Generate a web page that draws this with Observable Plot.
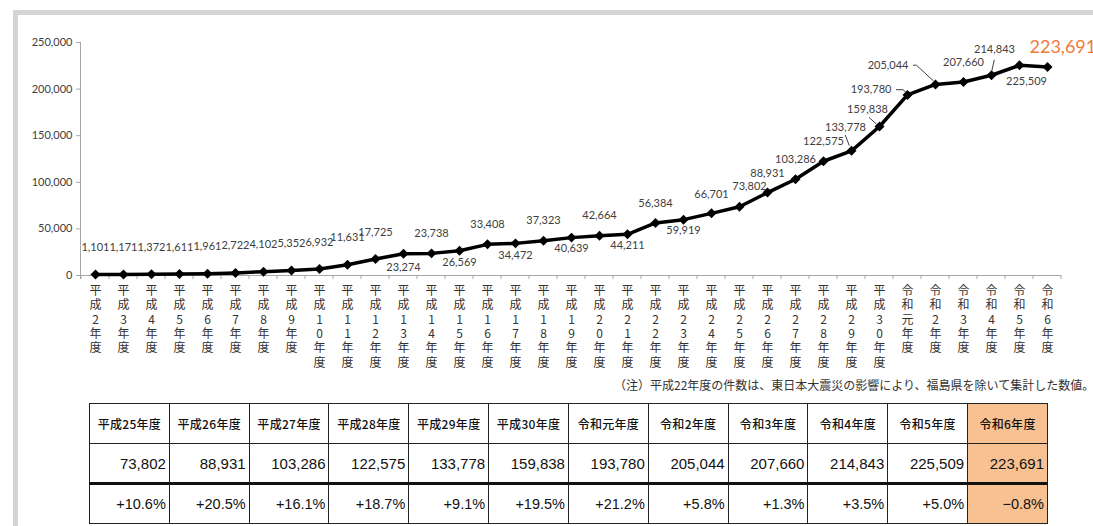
<!DOCTYPE html>
<html><head><meta charset="utf-8">
<script src="https://cdn.jsdelivr.net/npm/d3@7"></script>
<script src="https://cdn.jsdelivr.net/npm/@observablehq/plot@0.6"></script>
<style>
body{margin:0;background:#fff;width:1093px;height:526px;overflow:hidden;position:relative;font-family:Lato,sans-serif}
#frame{position:absolute;left:13px;top:10px;width:1200px;height:700px;border-left:5px solid #d5d5d5;border-top:5px solid #d5d5d5;box-sizing:border-box}
#chart{position:absolute;left:0;top:0}
#note{position:absolute;left:614px;top:376px;font-size:12px;line-height:18px;font-family:"Noto Sans CJK JP";color:#333;white-space:nowrap}
#tbl{position:absolute;left:89px;top:403px;border-collapse:collapse;width:959px;table-layout:fixed;color:#111}
#tbl td{border:1.5px solid #222;height:40px;padding:0 3px;box-sizing:border-box;overflow:hidden;white-space:nowrap}
#tbl tr.h td{text-align:center;font-family:"Noto Sans CJK JP";font-size:12px;font-weight:500;letter-spacing:0.3px}
#tbl tr.v td{text-align:right;font-family:"Liberation Sans";font-size:15px;border-bottom:3px solid #111}
#tbl tr.p td{text-align:right;font-family:"Liberation Sans";font-size:14.5px}
#tbl td.hl{background:#f8c191}
</style></head>
<body>
<div id="frame"></div>
<div id="chart"></div>
<div id="note"></div>
<table id="tbl"></table>
<script>
const categories = ["平成2年度","平成3年度","平成4年度","平成5年度","平成6年度","平成7年度","平成8年度","平成9年度","平成10年度","平成11年度","平成12年度","平成13年度","平成14年度","平成15年度","平成16年度","平成17年度","平成18年度","平成19年度","平成20年度","平成21年度","平成22年度","平成23年度","平成24年度","平成25年度","平成26年度","平成27年度","平成28年度","平成29年度","平成30年度","令和元年度","令和2年度","令和3年度","令和4年度","令和5年度","令和6年度"];
const counts = [1101,1171,1372,1611,1961,2722,4102,5352,6932,11631,17725,23274,23738,26569,33408,34472,37323,40639,42664,44211,56384,59919,66701,73802,88931,103286,122575,133778,159838,193780,205044,207660,214843,225509,223691];
const yTicks = [0,50000,100000,150000,200000,250000];
const tableYears = ["平成25年度","平成26年度","平成27年度","平成28年度","平成29年度","平成30年度","令和元年度","令和2年度","令和3年度","令和4年度","令和5年度","令和6年度"];
const tableCounts = [73802,88931,103286,122575,133778,159838,193780,205044,207660,214843,225509,223691];
const tableChanges = ["+10.6%","+20.5%","+16.1%","+18.7%","+9.1%","+19.5%","+21.2%","+5.8%","+1.3%","+3.5%","+5.0%","−0.8%"];
const noteText = "（注）平成22年度の件数は、東日本大震災の影響により、福島県を除いて集計した数値。";

// label placement: [dx, dy, anchor]
const labelPlace = [
 [0,-27],[0,-27],[0,-27],[0,-27],[0,-27],[0,-27],[0,-27],[0,-27],[0,-27],[0,-27],[0,-27],
 [0,14],[0,-20],[0,12],[0,-20],[0,12],[0,-20],[0,11],[0,-20],[0,11],[0,-19],[0,11],[0,-19],
 [10,-20],[0,-19],[0,-20],[0,-20],[-6,-23],[-12,-17],[-16,-5,"end"],[-27,-19,"end"],[0,-19.5],[3,-26],[7,16],[-18,-20,"start"]
];
const leaders = [
 [27, [[-5.7,-15.3],[-1.7,-4.6]]],
 [28, [[-10,-8.7],[-2.6,-2]]],
 [29, [[-11,-4.7],[-4,-4.7],[-1,-2]]],
 [30, [[-22,-18.7],[-18.6,-18.7],[-1.6,-3]]],
 [32, [[3.3,-15],[0.7,-3.3]]]
];

const rows = categories.map((cat,i)=>({cat, count:counts[i], i}));
const fmt = d3.format(",");
const last = rows.length-1;

const labelMarks = rows.map((r,i)=>{
  const [dx,dy,anchor] = labelPlace[i];
  const hl = i===last;
  return Plot.text([r], {x:"cat", y:"count", text:d=>fmt(d.count), dx, dy, textAnchor:anchor||"middle",
    fill: hl ? "#f07a3c" : "#404040", fontSize: hl ? 18 : 11, fontFamily:"Lato"});
});

const guideMark = (index, scales, values, dims) => {
  const g = d3.create("svg:g");
  const xs = categories.map(c=>scales.x(c));
  const step = xs[1]-xs[0];
  const y0 = scales.y(0);
  g.append("line").attr("x1",dims.marginLeft-0.5).attr("x2",dims.marginLeft-0.5)
    .attr("y1",scales.y(250000)).attr("y2",y0+4).attr("stroke","#a6a6a6");
  const bounds = [xs[0]-step/2, ...xs.map(x=>x+step/2)];
  for (const b of bounds) g.append("line").attr("x1",b).attr("x2",b).attr("y1",y0).attr("y2",y0+4).attr("stroke","#a6a6a6");
  return g.node();
};

const leaderMark = (index, scales) => {
  const g = d3.create("svg:g");
  for (const [i, pts] of leaders) {
    const px = scales.x(categories[i]), py = scales.y(counts[i]);
    g.append("polyline").attr("points", pts.map(([a,b])=>`${px+a},${py+b}`).join(" "))
      .attr("fill","none").attr("stroke","#404040").attr("stroke-width",1);
  }
  return g.node();
};

const chart = Plot.plot({
  width:1093, height:395, marginLeft:81, marginRight:32, marginTop:42, marginBottom:120,
  style:{fontFamily:"Lato", fontSize:"11px", color:"#404040", background:"transparent", overflow:"visible"},
  x:{type:"point", domain:categories, padding:0.5},
  y:{domain:[0,250000]},
  marks:[
    Plot.axisY({ticks:yTicks, tickSize:5, tickPadding:4, tickFormat:fmt, stroke:"#a6a6a6", fill:"#404040", fontSize:11, fontFamily:"Lato", label:null}),
    Plot.axisX({tickSize:0, tickPadding:9, tickFormat:d=>Array.from(d).join("\n"), fontFamily:"Noto Sans CJK JP", fontSize:12, lineHeight:1.2, fill:"#333", label:null}),
    Plot.ruleY([0], {stroke:"#a6a6a6"}),
    guideMark,
    Plot.line(rows, {x:"cat", y:"count", stroke:"black", strokeWidth:3.5}),
    Plot.dot(rows, {x:"cat", y:"count", symbol:"diamond2", r:4.5, fill:"black"}),
    leaderMark,
    ...labelMarks
  ]
});
document.getElementById("chart").appendChild(chart);
document.getElementById("note").textContent = noteText;

const tbl = d3.select("#tbl");
const n = tableYears.length;
tbl.append("tr").attr("class","h").selectAll("td").data(tableYears).join("td").classed("hl",(d,i)=>i===n-1).text(d=>d);
tbl.append("tr").attr("class","v").selectAll("td").data(tableCounts).join("td").classed("hl",(d,i)=>i===n-1).text(d=>fmt(d));
tbl.append("tr").attr("class","p").selectAll("td").data(tableChanges).join("td").classed("hl",(d,i)=>i===n-1).text(d=>d);
</script>
</body></html>
